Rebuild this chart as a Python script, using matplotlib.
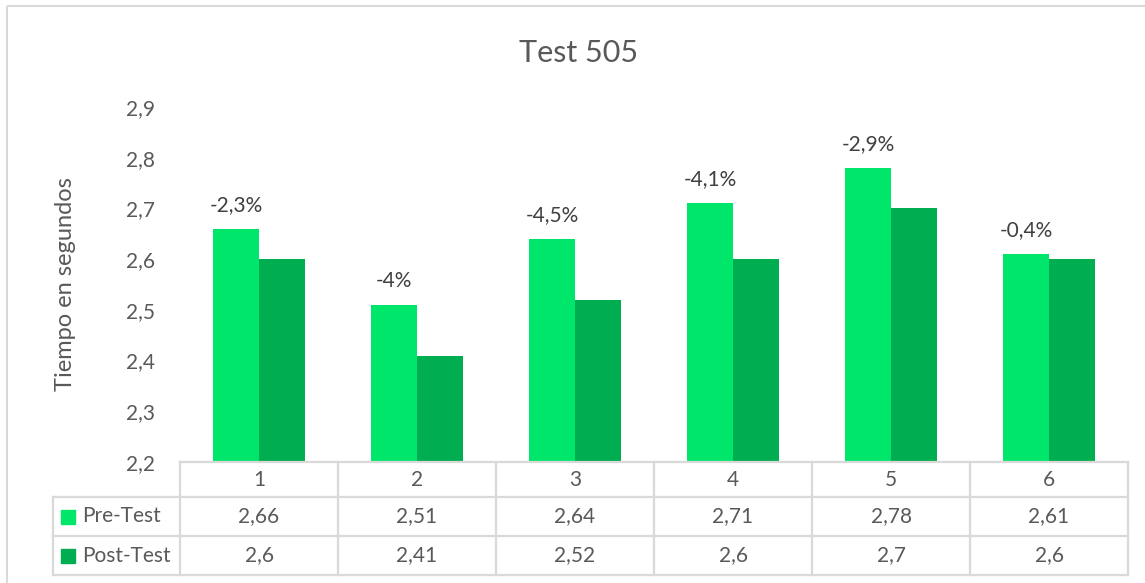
import matplotlib.pyplot as plt
from matplotlib.lines import Line2D
from matplotlib.patches import Rectangle

plt.rcParams['font.family'] = ['Lato', 'DejaVu Sans']

categories = ["1", "2", "3", "4", "5", "6"]
pre_test = [2.66, 2.51, 2.64, 2.71, 2.78, 2.61]
post_test = [2.6, 2.41, 2.52, 2.6, 2.7, 2.6]
change_labels = ["-2,3%", "-4%", "-4,5%", "-4,1%", "-2,9%", "-0,4%"]
series_names = ["Pre-Test", "Post-Test"]
y_ticks = [2.2, 2.3, 2.4, 2.5, 2.6, 2.7, 2.8, 2.9]

PRE_COLOR = "#00E66A"
POST_COLOR = "#00AD50"
TEXT = "#595959"
GRID = "#D9D9D9"

W, H = 1145, 583


def comma(v):
    return f"{v:g}".replace(".", ",")


def main():
    fig = plt.figure(figsize=(W / 100, H / 100), dpi=100)

    # plot area in pixels
    x0, x1 = 180, 1128
    ytop, ybot = 107, 462
    ax = fig.add_axes([x0 / W, 1 - ybot / H, (x1 - x0) / W, (ybot - ytop) / H])
    n = len(categories)
    xs = list(range(n))
    bw = 0.29
    ax.bar([x - bw / 2 for x in xs], pre_test, width=bw, color=PRE_COLOR, zorder=2)
    ax.bar([x + bw / 2 for x in xs], post_test, width=bw, color=POST_COLOR, zorder=2)
    for x, v, lab in zip(xs, pre_test, change_labels):
        ax.annotate(lab, (x - bw / 2, v), xytext=(0, 10), textcoords="offset points",
                    ha="center", va="bottom", fontsize=15, color="#404040",
                    annotation_clip=False)
    ax.set_xlim(-0.5, n - 0.5)
    ax.set_ylim(2.2, 2.9)
    ax.set_yticks(y_ticks)
    ax.set_yticklabels([comma(t) for t in y_ticks])
    ax.set_xticks([])
    ax.tick_params(axis="y", length=0, pad=18, labelsize=15, labelcolor=TEXT)
    for s in ax.spines.values():
        s.set_visible(False)
    ax.set_ylabel("Tiempo en segundos", fontsize=17, color=TEXT, labelpad=36)

    # overlay in pixel coords for title and border
    ov = fig.add_axes([0, 0, 1, 1], zorder=-1)
    ov.set_xlim(0, W)
    ov.set_ylim(H, 0)
    ov.axis("off")
    ov.add_patch(Rectangle((7, 6), W + 20, H + 20, fill=False, ec=GRID, lw=1.5))
    ov.text(579, 53, "Test 505", ha="center", va="center", fontsize=22, color=TEXT)

    # data table under the plot
    tb = fig.add_axes([0, 0, 1, 1])
    tb.set_xlim(0, W)
    tb.set_ylim(H, 0)
    tb.axis("off")
    lab_left = 53
    rows_y = [462, 497, 536, 575]
    cw = (x1 - x0) / n
    lc = dict(color=GRID, lw=1.6)
    tb.add_line(Line2D([x0, x1], [rows_y[0]] * 2, **lc))
    for yy in rows_y[1:]:
        tb.add_line(Line2D([lab_left, x1], [yy] * 2, **lc))
    tb.add_line(Line2D([lab_left, lab_left], [rows_y[1], rows_y[3]], **lc))
    for k in range(n + 1):
        xx = x0 + k * cw
        tb.add_line(Line2D([xx, xx], [rows_y[0], rows_y[3]], **lc))

    tk = dict(ha="center", va="center", fontsize=15, color=TEXT)
    for k, c in enumerate(categories):
        cx = x0 + (k + 0.5) * cw
        tb.text(cx, (rows_y[0] + rows_y[1]) / 2, c, **tk)
        tb.text(cx, (rows_y[1] + rows_y[2]) / 2, comma(pre_test[k]), **tk)
        tb.text(cx, (rows_y[2] + rows_y[3]) / 2, comma(post_test[k]), **tk)
    for r, (name, col) in enumerate(zip(series_names, [PRE_COLOR, POST_COLOR])):
        cy = (rows_y[r + 1] + rows_y[r + 2]) / 2
        tb.add_patch(Rectangle((61, cy - 7), 14, 14, color=col))
        tb.text(82, cy, name, ha="left", va="center", fontsize=15, color=TEXT)

    fig.savefig("out.png", dpi=100)
    plt.close(fig)


if __name__ == "__main__":
    main()
